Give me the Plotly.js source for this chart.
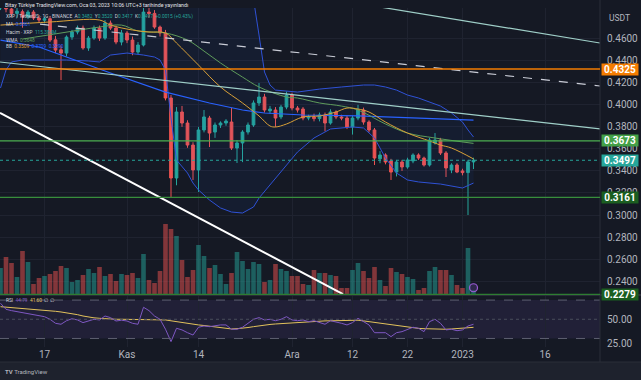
<!DOCTYPE html>
<html><head><meta charset="utf-8">
<script src="https://cdn.plot.ly/plotly-3.0.1.min.js"></script>
<style>html,body{margin:0;padding:0;background:#151924;}#chart{width:641px;height:380px;}</style>
</head><body><div id="chart"></div>
<script>
// ---- data (XRP/USDT daily, 2022-10-09 .. 2023-01-03) ----
const startDay = Date.UTC(2022, 9, 9);
const open  = [0.4880,0.4930,0.4870,0.4830,0.4845,0.4797,0.4842,0.4788,0.4768,0.4782,0.4590,0.4500,0.4470,0.4615,0.4661,0.4697,0.4516,0.4606,0.4697,0.4606,0.4742,0.4697,0.4570,0.4652,0.4588,0.4479,0.4543,0.4842,0.4830,0.4706,0.4652,0.4062,0.3336,0.3935,0.3835,0.3635,0.3409,0.3772,0.3880,0.3753,0.3817,0.3835,0.3844,0.3608,0.3654,0.3753,0.3817,0.4017,0.4071,0.3945,0.3953,0.3890,0.3980,0.4089,0.3971,0.3962,0.3880,0.3890,0.3875,0.3908,0.3835,0.3935,0.3890,0.3880,0.3799,0.3880,0.3953,0.3844,0.3772,0.3510,0.3545,0.3490,0.3390,0.3481,0.3436,0.3490,0.3545,0.3517,0.3454,0.3654,0.3681,0.3563,0.3409,0.3454,0.3400,0.3385,0.3482];
const high  = [0.4960,0.4980,0.4900,0.4880,0.4865,0.4860,0.4860,0.4815,0.4800,0.4805,0.4625,0.4540,0.4630,0.4680,0.4720,0.4720,0.4625,0.4720,0.4720,0.4770,0.4765,0.4720,0.4680,0.4670,0.4620,0.4570,0.4880,0.4900,0.4860,0.4720,0.4680,0.4089,0.3980,0.3990,0.3860,0.3660,0.3800,0.3953,0.3900,0.3840,0.3850,0.3870,0.3971,0.3680,0.3770,0.3840,0.4040,0.4198,0.4100,0.3990,0.3980,0.4000,0.4120,0.4110,0.3990,0.3980,0.3910,0.3920,0.3930,0.3930,0.3960,0.3950,0.3910,0.3900,0.3900,0.4000,0.3975,0.3860,0.3790,0.3580,0.3560,0.3510,0.3500,0.3500,0.3520,0.3560,0.3560,0.3530,0.3700,0.3744,0.3700,0.3580,0.3470,0.3470,0.3420,0.3500,0.3520];
const low   = [0.4860,0.4840,0.4800,0.4790,0.4700,0.4780,0.4770,0.4745,0.4740,0.4570,0.4470,0.4225,0.4440,0.4590,0.4640,0.4500,0.4490,0.4590,0.4580,0.4590,0.4680,0.4550,0.4540,0.4560,0.4450,0.4460,0.4530,0.4790,0.4690,0.4620,0.4040,0.3161,0.3270,0.3800,0.3610,0.3318,0.3209,0.3750,0.3617,0.3700,0.3790,0.3810,0.3590,0.3472,0.3480,0.3730,0.3800,0.3990,0.3930,0.3920,0.3800,0.3870,0.3960,0.3950,0.3930,0.3860,0.3860,0.3850,0.3850,0.3760,0.3820,0.3870,0.3860,0.3780,0.3730,0.3860,0.3820,0.3750,0.3454,0.3470,0.3460,0.3318,0.3350,0.3400,0.3420,0.3470,0.3500,0.3440,0.3440,0.3640,0.3545,0.3345,0.3380,0.3380,0.3360,0.3000,0.3417];
const close = [0.4930,0.4870,0.4830,0.4850,0.4797,0.4842,0.4788,0.4770,0.4782,0.4588,0.4497,0.4470,0.4615,0.4661,0.4697,0.4516,0.4606,0.4697,0.4606,0.4742,0.4697,0.4570,0.4652,0.4588,0.4479,0.4543,0.4842,0.4830,0.4706,0.4652,0.4062,0.3336,0.3935,0.3835,0.3635,0.3409,0.3772,0.3890,0.3744,0.3817,0.3835,0.3853,0.3608,0.3654,0.3753,0.3817,0.4017,0.4071,0.3953,0.3962,0.3880,0.3980,0.4089,0.3971,0.3953,0.3880,0.3890,0.3875,0.3908,0.3835,0.3935,0.3890,0.3880,0.3799,0.3880,0.3953,0.3844,0.3772,0.3517,0.3545,0.3481,0.3390,0.3481,0.3436,0.3499,0.3545,0.3517,0.3454,0.3681,0.3681,0.3563,0.3427,0.3454,0.3390,0.3385,0.3482,0.3497];
const volumeM = [675,950,800,450,1100,825,275,425,475,525,600,725,675,325,375,500,650,550,700,475,525,350,525,500,550,425,1025,375,300,600,1775,1650,1475,875,450,625,1250,975,675,750,525,275,550,1075,850,650,825,775,325,375,775,650,600,475,475,275,250,625,550,550,500,475,175,175,625,800,600,425,700,375,225,675,575,525,450,400,125,175,600,700,625,625,500,250,175,1175,115];
const rsi = [66.7,60.4,59.0,57.9,56.9,55.5,54.5,53.8,52.7,50.0,45.8,44.8,48.5,50.6,49.3,46.5,48.5,50.0,49.3,53.4,51.7,48.2,49.0,48.2,45.8,44.8,62.5,59.0,53.4,50.0,39.6,26.7,40.6,38.9,36.0,33.6,41.7,43.0,42.3,43.3,44.1,44.1,39.6,39.6,41.7,45.8,50.0,51.7,49.3,50.0,48.5,50.0,52.7,49.3,48.5,49.3,47.5,48.5,46.9,44.8,48.5,47.5,45.8,44.1,46.5,51.0,47.5,44.1,36.0,36.0,36.0,31.9,36.0,37.1,39.6,41.7,40.6,37.1,47.5,50.0,45.8,38.9,39.6,38.1,38.9,43.0,44.79];
const rsiMA = [63.1,62.7,62.3,61.9,61.4,61.0,60.6,60.1,59.7,59.0,58.3,57.6,56.9,55.8,54.8,53.4,52.1,51.5,51.0,50.5,50.0,50.0,50.0,50.0,50.0,50.0,50.0,50.0,50.0,49.6,49.3,48.4,47.4,46.5,45.7,44.9,44.1,43.5,42.9,42.3,41.5,40.6,39.9,40.2,40.6,41.4,42.3,43.2,44.1,44.6,45.1,45.5,45.8,46.5,46.9,47.2,47.7,48.2,48.2,48.3,48.4,48.5,48.5,48.7,48.9,49.0,48.3,47.5,46.7,45.8,45.0,44.1,43.2,42.3,41.6,40.9,40.5,40.2,39.9,39.6,39.6,39.6,39.9,40.2,40.6,40.9,41.6];

// indicator lines read at candle indices
const bbUpperIdx = [0,10,20,29,30,32,36,40,44,46,47,48,49,50,54,58,62,66,68,70,72,74,76,78,80,82,84,85,86];
const bbUpper    = [0.500,0.498,0.497,0.497,0.500,0.505,0.510,0.508,0.500,0.4960,0.4634,0.4298,0.4180,0.4134,0.4116,0.4143,0.4162,0.4180,0.4180,0.4162,0.4134,0.4089,0.4062,0.4026,0.3989,0.3926,0.3844,0.3772,0.3708];
const bbLowerIdx = [0,1,2,4,8,12,16,18,20,23,26,28,29,30,31,32,34,35,36,38,40,42,44,46,47,49,52,54,57,60,64,66,68,70,72,74,76,80,84,86];
const bbLower    = [0.4153,0.4316,0.4389,0.4407,0.4407,0.4407,0.4398,0.4389,0.4452,0.4470,0.4452,0.4434,0.4407,0.4316,0.3880,0.3499,0.3381,0.3290,0.3227,0.3136,0.3064,0.3027,0.3018,0.3073,0.3154,0.3272,0.3454,0.3572,0.3699,0.3781,0.3799,0.3790,0.3699,0.3517,0.3381,0.3318,0.3300,0.3281,0.3245,0.3290];
const bbBasisIdx = [0,9,18,20,24,27,30,32,36,40,44,47,49,50,52,55,58,61,63,65,67,70,74,78,80,82,86];
const bbBasis    = [0.4724,0.4752,0.4770,0.4724,0.4679,0.4661,0.4652,0.4561,0.4361,0.4162,0.4017,0.3899,0.3808,0.3799,0.3826,0.3890,0.3899,0.3935,0.3971,0.3962,0.3935,0.3844,0.3744,0.3672,0.3635,0.3608,0.3509];
const wmaIdx = [4,11,18,22,25,30,34,37,40,44,47,52,54,58,62,65,70,74,79,86];
const wma    = [0.4597,0.4652,0.4706,0.4724,0.4670,0.4652,0.4588,0.4488,0.4380,0.4252,0.4162,0.4071,0.4062,0.4017,0.3989,0.3953,0.3826,0.3744,0.3699,0.3650];
const maIdx = [0,7,20,30,38,44,48,55,65,76,86];
const ma    = [0.4588,0.4525,0.4289,0.4116,0.4017,0.3953,0.3926,0.3908,0.3899,0.3880,0.3862];

// drawings (index position, price)
const lineWhiteIdx = [-0.09, 62.27], lineWhiteP = [0.3926, 0.2283];
const lineDashIdx  = [7.18, 109],    lineDashP  = [0.4733, 0.4171];
const lineMidIdx   = [-0.09, 109],   lineMidP   = [0.4389, 0.3781];
const lineTopIdx   = [69.0, 109],    lineTopP   = [0.4888, 0.4561];
const levels      = [0.4325, 0.3673, 0.3161, 0.2279];
const levelColors = ['#f57c00', '#4caf50', '#388e3c', '#2e7d32'];
const levelBoxes  = ['#f57c00', '#43a047', '#1b5e20', '#1b5e20'];
const lastPrice = 0.3497;
const priceTicks = [0.24,0.26,0.28,0.30,0.32,0.34,0.36,0.38,0.40,0.42,0.44,0.46];
const timeTicks = ['2022-10-17','2022-11-01','2022-11-14','2022-12-01','2022-12-12','2022-12-22','2023-01-01','2023-01-16'];
const timeTickText = ['17','Kas','14','Ara','12','22','2023','16'];

// ---- helpers ----
function dayAt(k){ return new Date(startDay + k*86400000).toISOString().slice(0,19).replace('T',' '); }
const dates = open.map((_, i) => dayAt(i));
const FONT = 'Roboto, "Liberation Sans", Arial, sans-serif';
const UP = '#26a69a', DOWN = '#ef5350';
const PH = 339; // plot height in px
function ax(px){ return px/600; }
function ay(py){ return (347-py)/PH; }
const rsiTop = (347-295)/PH;

const volColors = close.map((c, i) => c >= open[i] ? 'rgba(38,166,154,0.5)' : 'rgba(239,83,80,0.5)');

const traces = [
  {type:'bar', x:dates, y:volumeM, marker:{color:volColors, line:{width:0}}, xaxis:'x', yaxis:'y', hoverinfo:'skip'},
  {type:'scatter', mode:'lines', x:bbUpperIdx.map(dayAt), y:bbUpper, line:{color:'#2f52d6', width:1}, xaxis:'x', yaxis:'y2', hoverinfo:'skip'},
  {type:'scatter', mode:'lines', x:bbLowerIdx.map(dayAt), y:bbLower, line:{color:'#2f52d6', width:1}, fill:'tonexty', fillcolor:'rgba(41,98,255,0.06)', xaxis:'x', yaxis:'y2', hoverinfo:'skip'},
  {type:'scatter', mode:'lines', x:maIdx.map(dayAt), y:ma, line:{color:'#2962ff', width:1.2}, xaxis:'x', yaxis:'y2', hoverinfo:'skip'},
  {type:'scatter', mode:'lines', x:wmaIdx.map(dayAt), y:wma, line:{color:'#5f9c5b', width:1, shape:'spline'}, xaxis:'x', yaxis:'y2', hoverinfo:'skip'},
  {type:'scatter', mode:'lines', x:bbBasisIdx.map(dayAt), y:bbBasis, line:{color:'#d9a037', width:1, shape:'spline'}, xaxis:'x', yaxis:'y2', hoverinfo:'skip'},
  {type:'candlestick', x:dates, open:open, high:high, low:low, close:close, xaxis:'x', yaxis:'y2',
   increasing:{line:{color:UP, width:1}, fillcolor:UP}, decreasing:{line:{color:DOWN, width:1}, fillcolor:DOWN},
   whiskerwidth:0, hoverinfo:'skip'},
  {type:'scatter', mode:'lines', x:lineMidIdx.map(dayAt), y:lineMidP, line:{color:'#9fcfc8', width:1.2}, xaxis:'x', yaxis:'y2', hoverinfo:'skip'},
  {type:'scatter', mode:'lines', x:lineTopIdx.map(dayAt), y:lineTopP, line:{color:'#9fcfc8', width:1.2}, xaxis:'x', yaxis:'y2', hoverinfo:'skip'},
  {type:'scatter', mode:'lines', x:lineDashIdx.map(dayAt), y:lineDashP, line:{color:'#c9ccd6', width:1.2, dash:'dash'}, xaxis:'x', yaxis:'y2', hoverinfo:'skip'},
  {type:'scatter', mode:'lines', x:lineWhiteIdx.map(dayAt), y:lineWhiteP, line:{color:'#ffffff', width:2}, xaxis:'x', yaxis:'y2', hoverinfo:'skip'},
  {type:'scatter', mode:'lines', x:dates, y:rsiMA, line:{color:'#e2c25c', width:1}, xaxis:'x', yaxis:'y3', hoverinfo:'skip'},
  {type:'scatter', mode:'lines', x:dates, y:rsi, line:{color:'#7e57c2', width:1}, xaxis:'x', yaxis:'y3', hoverinfo:'skip'}
];

const shapes = [
  {type:'rect', xref:'paper', yref:'y3', x0:0, x1:1, y0:30, y1:70, fillcolor:'rgba(126,87,194,0.12)', line:{width:0}, layer:'below'},
  {type:'line', xref:'paper', yref:'y3', x0:0, x1:1, y0:70, y1:70, line:{color:'#5d6070', width:1, dash:'dash'}},
  {type:'line', xref:'paper', yref:'y3', x0:0, x1:1, y0:50, y1:50, line:{color:'#4a4d5c', width:1, dash:'dot'}},
  {type:'line', xref:'paper', yref:'y3', x0:0, x1:1, y0:30, y1:30, line:{color:'#5d6070', width:1, dash:'dash'}},
  {type:'line', xref:'paper', yref:'paper', x0:0, x1:641/600, y0:rsiTop, y1:rsiTop, line:{color:'#2a2e39', width:2}},
  {type:'line', xref:'paper', yref:'paper', x0:1, x1:1, y0:ay(362), y1:ay(0), line:{color:'#2a2e39', width:1}},
  {type:'rect', xref:'paper', yref:'paper', x0:-0.01, x1:641/600, y0:ay(380), y1:ay(362), fillcolor:'#1e222d', line:{width:0}},
  {type:'line', xref:'paper', yref:'paper', x0:0, x1:641/600, y0:ay(362), y1:ay(362), line:{color:'#2a2e39', width:1}},
  {type:'line', xref:'paper', yref:'y2', x0:0, x1:1, y0:lastPrice, y1:lastPrice, line:{color:UP, width:1, dash:'dot'}}
];
levels.forEach((v, i) => shapes.push({type:'line', xref:'paper', yref:'y2', x0:0, x1:1, y0:v, y1:v, line:{color:levelColors[i], width:i===0?1.6:1.2}}));
shapes.push({type:'circle', xref:'x', yref:'y2', xsizemode:'pixel', ysizemode:'pixel', xanchor:dates[86], yanchor:0.2340, x0:-4, x1:4, y0:-4, y1:4, line:{color:'#9c5bd6', width:1.2}, fillcolor:'rgba(126,87,194,0.25)'});

const sp = '\u00a0';
const annotations = [
  {text:'Bitay Türkiye TradingView.com, Oca 03, 2023 10:06 UTC+3 tarihinde yayınlandı', x:ax(3), y:ay(5), font:{size:5.3, color:'#e0e3eb'}},
  {text:'XRP / TetherUS · 1G · BINANCE'+sp+sp+'A<span style="color:#26a69a">0.3482</span>'+sp+sp+'Y<span style="color:#26a69a">0.3520</span>'+sp+sp+'D<span style="color:#26a69a">0.3417</span>'+sp+sp+'K<span style="color:#26a69a">0.3497</span>'+sp+sp+'<span style="color:#26a69a">+0.0015 (+0.43%)</span>', x:ax(4), y:ay(16), font:{size:4.8, color:'#d1d4dc'}},
  {text:'MA'+sp+sp+'<span style="color:#2962ff">0.3861</span>', x:ax(4), y:ay(24), font:{size:4.8, color:'#d1d4dc'}},
  {text:'Hacim · XRP'+sp+sp+'<span style="color:#26a69a">115.384M</span>', x:ax(4), y:ay(32), font:{size:4.8, color:'#d1d4dc'}},
  {text:'WMA'+sp+sp+'<span style="color:#5f9c5b">0.3648</span>', x:ax(4), y:ay(40), font:{size:4.8, color:'#d1d4dc'}},
  {text:'BB'+sp+sp+'<span style="color:#e0a030">0.3509</span>'+sp+sp+'<span style="color:#2962ff">0.3709</span>'+sp+sp+'<span style="color:#2962ff">0.3290</span>', x:ax(4), y:ay(47), font:{size:4.8, color:'#d1d4dc'}},
  {text:'RSI'+sp+sp+'<span style="color:#7e57c2">44.79</span>'+sp+sp+'<span style="color:#e2c25c">41.60</span>'+sp+sp+'∅'+sp+'∅', x:ax(4), y:ay(300.5), font:{size:4.8, color:'#d1d4dc'}},
  {text:'USDT', x:ax(607), y:ay(18), font:{size:8.5, color:'#b2b5be'}},
  {text:'<b>TV</b>'+sp+'TradingView', x:ax(3), y:ay(371.5), font:{size:6, color:'#b2b5be'}}
].map(a => Object.assign({xref:'paper', yref:'paper', xanchor:'left', yanchor:'middle', showarrow:false}, a, {font:Object.assign({family:FONT}, a.font)}));

levels.concat([lastPrice]).forEach((v, i) => {
  const bg = i < levels.length ? levelBoxes[i] : UP;
  annotations.push({xref:'paper', yref:'y2', x:1, y:v, xanchor:'left', yanchor:'middle', xshift:1, showarrow:false,
    text:'<b>'+v.toFixed(4)+'</b>', bgcolor:bg, width:36, height:11, borderpad:0,
    font:{family:FONT, size:10, color:'#ffffff'}});
});

const layout = {
  width:641, height:380, margin:{l:0, r:41, t:8, b:33},
  paper_bgcolor:'#151924', plot_bgcolor:'#151924', showlegend:false,
  bargap:0.16, boxgap:0.3, dragmode:false,
  xaxis:{type:'date', range:[dayAt(-0.0909), dayAt(109)], rangeslider:{visible:false}, anchor:'y3',
         tickvals:timeTicks, ticktext:timeTickText, showgrid:true, gridcolor:'#1f2330', gridwidth:1,
         zeroline:false, showline:false, ticks:'', tickfont:{family:FONT, size:10, color:'#b2b5be'}, fixedrange:true},
  yaxis:{domain:[rsiTop, 1], range:[0, 287*25], visible:false, fixedrange:true},
  yaxis2:{overlaying:'y', side:'right', range:[0.2274, 0.4879], tickvals:priceTicks, ticktext:priceTicks.map(v=>v.toFixed(4)),
          showgrid:true, gridcolor:'#1f2330', zeroline:false, showline:false, ticks:'', ticklabelstandoff:6,
          tickfont:{family:FONT, size:10, color:'#b2b5be'}, fixedrange:true},
  yaxis3:{domain:[0, rsiTop], range:[21.1, 75.3], side:'right', tickvals:[25,50,75], ticktext:['25.00','50.00','75.00'],
          showgrid:false, zeroline:false, showline:false, ticks:'', ticklabelstandoff:6,
          tickfont:{family:FONT, size:10, color:'#b2b5be'}, fixedrange:true},
  shapes:shapes, annotations:annotations
};

Plotly.newPlot('chart', traces, layout, {staticPlot:true, displayModeBar:false});
</script>
</body></html>
